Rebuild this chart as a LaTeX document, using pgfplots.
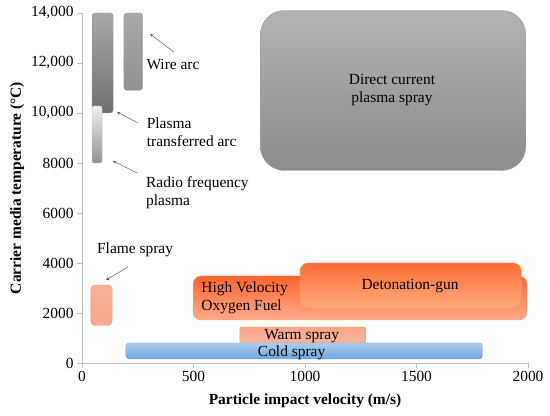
\documentclass[border=0pt]{standalone}
\usepackage{pgfplots}
\pgfplotsset{compat=1.18}
\usepackage{fontspec}
\setmainfont{Liberation Serif}
\definecolor{axgray}{RGB}{190,190,190}
\begin{document}
\begin{tikzpicture}
\begin{axis}[
  scale only axis, width=446bp, height=350bp,
  xmin=0, xmax=2000, ymin=0, ymax=14000,
  clip=false,
  axis x line=bottom, axis y line=left,
  axis line style={draw=axgray, -},
  tick style={draw=axgray},
  tick align=outside,
  major tick length=5bp,
  scaled y ticks=false, scaled x ticks=false,
  xtick={0,500,1000,1500,2000},
  xticklabels={0,500,1000,1500,2000},
  ytick={0,2000,4000,6000,8000,10000,12000,14000},
  yticklabels={0,2000,4000,6000,8000,{10,000},{12,000},{14,000}},
  ticklabel style={font=\fontsize{15.5}{18}\selectfont},
  /pgf/number format/assume math mode=true,
  xlabel={\textbf{Particle impact velocity (m/s)}},
  ylabel={\textbf{Carrier media temperature (°C)}},
  label style={font=\fontsize{15.5}{18}\selectfont},
  xlabel style={yshift=-5bp},
  ylabel style={yshift=0bp},
  no markers,
]
\path (rel axis cs:-0.1839,-0.1514) rectangle (rel axis cs:1.0493,1.0371);
% Direct current plasma spray
\addplot[draw=gray!75, top color={rgb,255:red,178;green,178;blue,178}, bottom color={rgb,255:red,140;green,140;blue,140}, rounded corners=24bp]
  coordinates {(1400,7700) (1990,7700) (1990,14100) (800,14100) (800,7700)} -- cycle;
% Plasma transferred arc
\addplot[draw=gray!70, top color={rgb,255:red,168;green,168;blue,168}, bottom color={rgb,255:red,112;green,112;blue,112}, rounded corners=3bp]
  coordinates {(92,10000) (140,10000) (140,14000) (45,14000) (45,10000)} -- cycle;
% Wire arc
\addplot[draw=gray!70, top color={rgb,255:red,168;green,168;blue,168}, bottom color={rgb,255:red,145;green,145;blue,145}, rounded corners=3bp]
  coordinates {(230,10900) (272,10900) (272,14000) (188,14000) (188,10900)} -- cycle;
% Radio frequency plasma
\addplot[draw=gray!50, top color={rgb,255:red,240;green,240;blue,240}, bottom color={rgb,255:red,145;green,145;blue,145}, rounded corners=2bp]
  coordinates {(68,8000) (90,8000) (90,10280) (45,10280) (45,8000)} -- cycle;
% HVOF
\addplot[draw={rgb,255:red,250;green,150;blue,110}, top color={rgb,255:red,255;green,98;blue,45}, bottom color={rgb,255:red,255;green,172;blue,140}, rounded corners=8bp]
  coordinates {(1250,1720) (1995,1720) (1995,3480) (498,3480) (498,1720)} -- cycle;
% Detonation gun
\addplot[draw={rgb,255:red,250;green,150;blue,100}, top color={rgb,255:red,255;green,108;blue,55}, bottom color={rgb,255:red,255;green,172;blue,125}, rounded corners=8bp]
  coordinates {(1470,2200) (1970,2200) (1970,4000) (978,4000) (978,2200)} -- cycle;
% Warm spray
\addplot[draw={rgb,255:red,245;green,150;blue,120}, top color={rgb,255:red,252;green,165;blue,135}, bottom color={rgb,255:red,250;green,182;blue,158}, rounded corners=2bp]
  coordinates {(990,800) (1272,800) (1272,1440) (708,1440) (708,800)} -- cycle;
% Cold spray
\addplot[draw={rgb,255:red,120;green,165;blue,215}, top color={rgb,255:red,172;green,206;blue,240}, bottom color={rgb,255:red,110;green,165;blue,222}, rounded corners=3bp]
  coordinates {(1000,160) (1795,160) (1795,800) (197,800) (197,160)} -- cycle;
% Flame spray
\addplot[draw={rgb,255:red,245;green,155;blue,125}, top color={rgb,255:red,250;green,178;blue,150}, bottom color={rgb,255:red,248;green,168;blue,140}, rounded corners=4bp]
  coordinates {(88,1500) (135,1500) (135,3120) (40,3120) (40,1500)} -- cycle;

\begin{scope}[font=\fontsize{15.5}{18}\selectfont]
\node[align=center] at (axis cs:1390,10920) {Direct current\\plasma spray};
\node[anchor=center] at (axis cs:408,11920) {Wire arc};
\node[align=left, anchor=west] at (axis cs:275,9240) {Plasma\\transferred arc};
\node[align=left, anchor=west] at (axis cs:272,6800) {Radio frequency\\plasma};
\node at (axis cs:238,4520) {Flame spray};
\node[align=left, anchor=west] at (axis cs:520,2600) {High Velocity\\Oxygen Fuel};
\node at (axis cs:1471,3080) {Detonation-gun};
\node at (axis cs:985,1080) {Warm spray};
\node at (axis cs:940,420) {Cold spray};
\end{scope}
\begin{scope}[draw={rgb,255:red,90;green,90;blue,90}, -stealth, line width=0.5pt]
\draw (axis cs:412,12440) -- (axis cs:305,13160);
\draw (axis cs:251,9600) -- (axis cs:157,10040);
\draw (axis cs:247,7600) -- (axis cs:139,8080);
\draw (axis cs:206,3840) -- (axis cs:108,3320);
\end{scope}
\end{axis}
\end{tikzpicture}
\end{document}
